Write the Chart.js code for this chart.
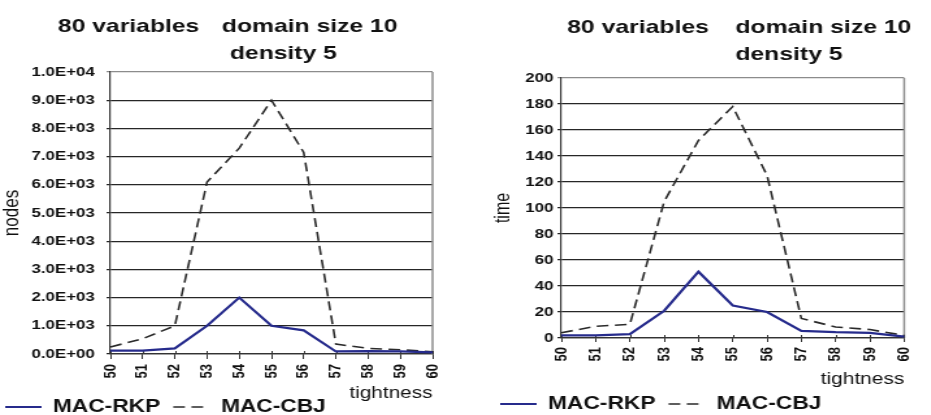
<!DOCTYPE html>
<html>
<head>
<meta charset="utf-8">
<script src="https://cdn.jsdelivr.net/npm/chart.js@4.4.1/dist/chart.umd.min.js"></script>
<style>
    body { margin: 0; background: #fff; width: 931px; height: 415px; overflow: hidden; position: relative; }
    .panel { position: absolute; top: 0; height: 415px; }
</style>
</head>
<body>
<div class="panel" style="left:0;width:465px">
    <canvas id="nodes-chart" width="358" height="415" style="width:465px;height:415px"></canvas>
</div>
<div class="panel" style="left:465px;width:466px">
    <canvas id="time-chart" width="358" height="415" style="width:466px;height:415px"></canvas>
</div>
<script>
const tightness = ["50", "51", "52", "53", "54", "55", "56", "57", "58", "59", "60"];
const seriesNames = ["MAC-RKP", "MAC-CBJ"];

const nodesRKP = [120, 120, 200, 1000, 2000, 1000, 840, 90, 100, 90, 60];
const nodesCBJ = [250, 540, 1000, 6100, 7300, 9000, 7150, 350, 200, 150, 80];
const timeRKP = [2, 2, 3, 21, 51, 25, 20, 5.5, 4.5, 4, 1];
const timeCBJ = [4, 9, 10.5, 105, 152, 178, 125, 15, 8.5, 6.5, 2];

const nodesRange = [0, 10000, 1000];
const timeRange = [0, 200, 20];

const titleParts = ["80 variables", "domain size 10", "density 5"];
const FONT = 'Arial, "Liberation Sans", sans-serif';

// 1000 -> "1.0E+03" like the spreadsheet does it
function sciLabel(value) {
    return value.toExponential(1).toUpperCase()
        .replace(/E([+-])(\d)$/, (m, sign, d) => "E" + sign + "0" + d);
}

// legend samples should use the dataset line, not the point style
function legendLabels(chart) {
    const items = Chart.defaults.plugins.legend.labels.generateLabels(chart);
    items.forEach((item) => {
        const ds = chart.data.datasets[item.datasetIndex];
        item.lineDash = ds.borderDash || [];
        item.lineWidth = ds.borderWidth;
        item.strokeStyle = ds.borderColor;
    });
    return items;
}

// two line title, placed like the original (not centred)
const titlePlugin = {
    id: "paperTitle",
    afterDraw(chart, args, opts) {
        const ctx = chart.ctx;
        ctx.save();
        ctx.font = "bold 19px " + FONT;
        ctx.fillStyle = "#111";
        opts.items.forEach((item) => ctx.fillText(item.text, item.x, item.y));
        ctx.restore();
    }
};

// grey right edge of the plot box + the little tick stubs above the x axis
const framePlugin = {
    id: "plotFrame",
    beforeDatasetsDraw(chart) {
        const { ctx, chartArea } = chart;
        const xScale = chart.scales.x;
        ctx.save();
        ctx.strokeStyle = "#8c8c8c";
        ctx.lineWidth = 1.5;
        ctx.beginPath();
        ctx.moveTo(chartArea.right, chartArea.top);
        ctx.lineTo(chartArea.right, chartArea.bottom);
        ctx.stroke();

        ctx.strokeStyle = "#333";
        ctx.lineWidth = 1;
        ctx.beginPath();
        xScale.ticks.forEach((t, i) => {
            const x = Math.round(xScale.getPixelForTick(i)) + 0.5;
            ctx.moveTo(x, chartArea.bottom - 3);
            ctx.lineTo(x, chartArea.bottom);
        });
        ctx.stroke();
        ctx.restore();
    }
};

function drawChart(canvasId, setup) {
    const range = setup.range;

    new Chart(document.getElementById(canvasId), {
        type: "line",
        data: {
            labels: tightness,
            datasets: [{
                label: seriesNames[0],
                data: setup.rkp,
                borderColor: "#262b8c",
                backgroundColor: "#262b8c",
                borderWidth: 2.2,
                pointRadius: 0,
                tension: 0
            }, {
                label: seriesNames[1],
                data: setup.cbj,
                borderColor: "#2a2a2a",
                backgroundColor: "#2a2a2a",
                borderWidth: 1.6,
                borderDash: [9, 5],
                pointRadius: 0,
                tension: 0
            }]
        },
        options: {
            responsive: false,
            animation: false,
            devicePixelRatio: 1,
            layout: { padding: setup.padding },
            plugins: {
                title: { display: false },
                tooltip: { enabled: false },
                legend: {
                    position: "bottom",
                    align: "start",
                    labels: {
                        usePointStyle: true,
                        pointStyle: "line",
                        pointStyleWidth: 28,
                        padding: 10,
                        color: "#111",
                        font: { family: FONT, size: 17.5, weight: "bold" },
                        generateLabels: legendLabels
                    }
                },
                paperTitle: { items: setup.title }
            },
            scales: {
                x: {
                    offset: false,
                    grid: { drawOnChartArea: false, tickLength: setup.xTick, color: "#333" },
                    border: { color: "#333", width: 1.2 },
                    ticks: {
                        autoSkip: false,
                        minRotation: 90,
                        maxRotation: 90,
                        padding: 5,
                        color: "#111",
                        font: { family: FONT, size: 13, weight: "bold" }
                    },
                    title: {
                        display: true,
                        text: "tightness",
                        align: "end",
                        color: "#111",
                        font: { family: FONT, size: 16 },
                        padding: { top: 0, bottom: setup.xTitlePad }
                    },
                    afterFit: (scale) => { scale.height = setup.xHeight; }
                },
                y: {
                    min: range[0],
                    max: range[1],
                    grid: {
                        tickLength: 3,
                        lineWidth: 1.2,
                        color: (c) => (c.tick && c.tick.value === range[1]) ? "#8c8c8c" : "#262626"
                    },
                    border: { color: "#333", width: 1.2 },
                    ticks: {
                        stepSize: range[2],
                        padding: setup.yPad,
                        color: "#111",
                        font: { family: FONT, size: 13, weight: "bold" },
                        callback: setup.format
                    },
                    title: {
                        display: true,
                        text: setup.yTitle,
                        color: "#111",
                        font: { family: FONT, size: setup.yTitleSize },
                        padding: { top: setup.yTitlePad, bottom: 0 }
                    },
                    afterFit: (scale) => { scale.width = setup.yWidth; }
                }
            }
        },
        plugins: [titlePlugin, framePlugin]
    });
}

drawChart("nodes-chart", {
    rkp: nodesRKP,
    cbj: nodesCBJ,
    range: nodesRange,
    format: sciLabel,
    yTitle: "nodes",
    yTitleSize: 17,
    yTitlePad: 5,
    yPad: 9,
    yWidth: 91,
    xTick: 5,
    xHeight: 34.25,
    xTitlePad: -15.35,
    padding: { top: 72, right: 25, bottom: -10.75, left: -6 },
    title: [
        { text: titleParts[0], x: 44.6, y: 27 },
        { text: titleParts[1], x: 170.8, y: 27 },
        { text: titleParts[2], x: 177, y: 54 }
    ]
});

drawChart("time-chart", {
    rkp: timeRKP,
    cbj: timeCBJ,
    range: timeRange,
    format: (v) => v,
    yTitle: "time",
    yTitleSize: 16,
    yTitlePad: 3.4,
    yPad: 3,
    yWidth: 57,
    xTick: 4,
    xHeight: 47.25,
    xTitlePad: -4.35,
    padding: { top: 78, right: 6.5, bottom: -7.75, left: 17 },
    title: [
        { text: titleParts[0], x: 78.5, y: 28 },
        { text: titleParts[1], x: 207.7, y: 28 },
        { text: titleParts[2], x: 207.7, y: 55 }
    ]
});
</script>
</body>
</html>
